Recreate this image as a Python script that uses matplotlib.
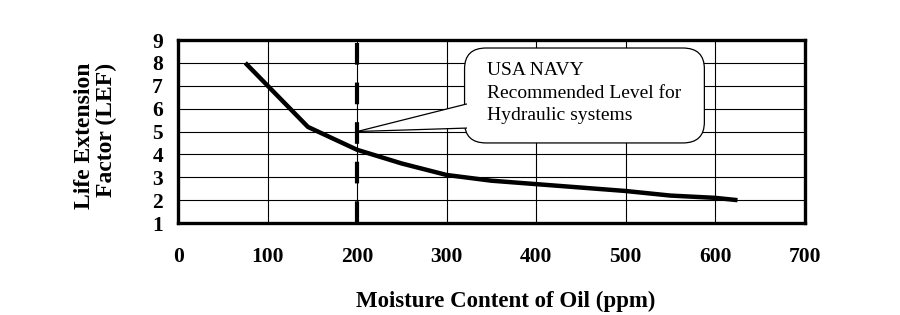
import numpy as np
import matplotlib
matplotlib.use("Agg")
import matplotlib.pyplot as plt
from matplotlib.patches import FancyBboxPatch, Polygon

plt.rcParams['font.family'] = ['Liberation Serif', 'DejaVu Serif']

# data
moisture = [75, 100, 145, 200, 250, 300, 350, 400, 450, 500, 550, 600, 625]
lef = [8.0, 7.0, 5.2, 4.2, 3.6, 3.1, 2.85, 2.7, 2.55, 2.4, 2.2, 2.1, 2.0]
navy_level = 200
x_ticks = [0, 100, 200, 300, 400, 500, 600, 700]
y_ticks = [1, 2, 3, 4, 5, 6, 7, 8, 9]
note = "USA NAVY\nRecommended Level for\nHydraulic systems"

fig = plt.figure(figsize=(9, 3.15), dpi=100)
ax = fig.add_axes([0.198, 0.292, 0.696, 0.581])

ax.set_xlim(0, 700)
ax.set_ylim(1, 9)
ax.set_xticks(x_ticks)
ax.set_yticks(y_ticks)
ax.grid(True, color='black', linewidth=0.8)
ax.set_axisbelow(True)
ax.tick_params(length=0, labelsize=15.5)
ax.tick_params(axis='x', pad=17)
ax.tick_params(axis='y', pad=11)
for lab in ax.get_xticklabels() + ax.get_yticklabels():
    lab.set_fontweight('bold')
for s in ax.spines.values():
    s.set_linewidth(2.4)

ax.plot(moisture, lef, color='black', lw=3.2, solid_capstyle='butt', zorder=3)
ax.plot([navy_level, navy_level], [1, 9], color='black', lw=3,
        dashes=(5.2, 4.3), zorder=3)

# callout box
box = FancyBboxPatch((320, 4.5), 268, 4.15,
                     boxstyle="round,pad=0,rounding_size=24",
                     mutation_aspect=0.038,
                     facecolor='white', edgecolor='black', lw=0.9, zorder=5)
ax.add_patch(box)
wedge = Polygon([(navy_level, 5.0), (322, 6.2), (322, 5.15)], closed=True,
                facecolor='white', edgecolor='none', zorder=6)
ax.add_patch(wedge)
ax.plot([navy_level, 322], [5.0, 6.2], color='black', lw=0.9, zorder=7)
ax.plot([navy_level, 322], [5.0, 5.15], color='black', lw=0.9, zorder=7)
ax.text(345, 6.68, note, ha='left', va='center', fontsize=14,
        linespacing=1.42, zorder=8)

fig.text(0.562, 0.042, "Moisture Content of Oil (ppm)", ha='center',
         va='center', fontsize=16.5, fontweight='bold')
fig.text(0.106, 0.568, "Life Extension\nFactor (LEF)", ha='center',
         va='center', rotation=90, fontsize=17, fontweight='bold',
         linespacing=1.1, multialignment='right')

fig.savefig("out.png", dpi=100)
